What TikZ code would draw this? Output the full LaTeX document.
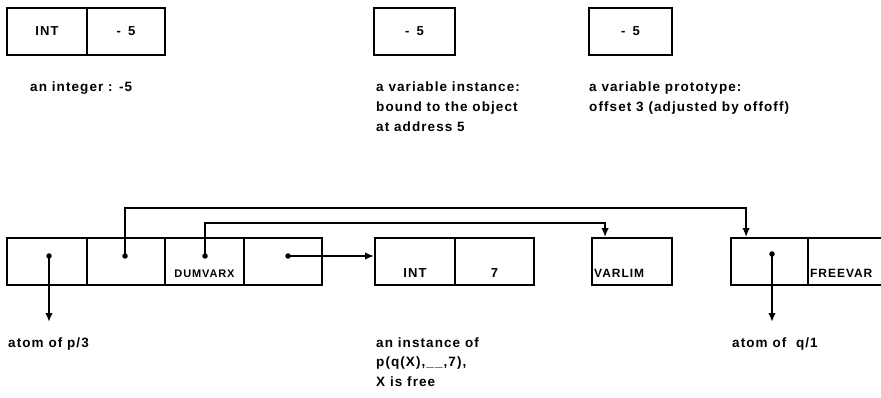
\documentclass[tikz,border=0pt]{standalone}
\usepackage{fontspec}
\setmainfont{Liberation Sans}[LetterSpace=8]
\usetikzlibrary{arrows.meta}
\begin{document}
\begin{tikzpicture}[x=1pt,y=-1pt,
  cell/.style={draw,line width=1.8pt,minimum height=47pt,inner sep=0pt,font=\bfseries\fontsize{13}{15}\selectfont},
  intext/.style={font=\bfseries\fontsize{13}{15}\selectfont,inner sep=0pt},
  lbl/.style={anchor=base west,inner sep=0pt,font=\bfseries\fontsize{13.5}{20}\selectfont},
  dot/.style={circle,fill,inner sep=0pt,minimum size=5.5pt},
  arr/.style={line width=1.8pt,-{Latex[length=9pt,width=7.5pt]}}]
\useasboundingbox (0,0) rectangle (881,398);
\clip (0,0) rectangle (881,398);
% top row
\node[cell,minimum width=80pt] (int1) at (47,31.5) {INT};
\node[cell,minimum width=78pt] (val1) at (126,31.5) {-\hspace{7pt}5};
\node[lbl] (l1) at (30,92) {an integer : -5};
\node[cell,minimum width=81pt] (var1) at (414.5,31.5) {-\hspace{7pt}5\hspace{14pt}};
\node[lbl] (l2a) at (376,92) {a variable instance:};
\node[lbl] (l2b) at (376,112) {bound to the object};
\node[lbl] (l2c) at (376,132) {at address 5};
\node[cell,minimum width=83pt] (proto) at (630.5,31.5) {-\hspace{7pt}5\hspace{20pt}};
\node[lbl] (l3a) at (589,92) {a variable prototype:};
\node[lbl] (l3b) at (589,112) {offset 3 (adjusted by offoff)};
% bottom row
\node[cell,minimum width=80pt] (c1) at (47,261.5) {};
\node[cell,minimum width=78pt] (c2) at (126,261.5) {};
\node[cell,minimum width=79pt] (c3) at (204.5,261.5) {};
\node[cell,minimum width=78pt] (c4) at (283,261.5) {};
\node[intext,font=\bfseries\fontsize{11}{13}\selectfont,anchor=base] (dv) at (c3.center |- 0,277) {DUMVARX};
\node[cell,minimum width=80pt] (i1) at (415,261.5) {};
\node[cell,minimum width=79pt] (i2) at (494.5,261.5) {};
\node[intext,anchor=base] (it) at (i1.center |- 0,277) {INT};
\node[intext,anchor=base] (i7) at (i2.center |- 0,277) {7};
\node[cell,minimum width=80pt] (vl) at (632,261.5) {};
\node[intext,font=\bfseries\fontsize{12}{14}\selectfont,anchor=base west] (vlt) at (594,277) {VARLIM};
\node[cell,minimum width=77pt] (f1) at (769.5,261.5) {};
\node[cell,minimum width=90pt] (f2) at (853,261.5) {};
\node[intext,font=\bfseries\fontsize{12}{14}\selectfont,anchor=base west] (fv) at (810,277) {FREEVAR};
% dots
\node[dot] (d1) at (49,256) {};
\node[dot] (d2) at (125,256) {};
\node[dot] (d3) at (205,256) {};
\node[dot] (d4) at (288,256) {};
\node[dot] (d5) at (772,254) {};
% free ends
\coordinate (e1) at (49,322);
\coordinate (e5) at (772,322);
% connectors
\draw[arr] (d1.center) -- (e1);
\draw[arr] (d5.center) -- (e5);
\draw[arr] (d4.center) -- (d4 -| i1.west);
\draw[arr] (d2.center) -- (125,208) -| ([xshift=16pt]f1.north west);
\draw[arr] (d3.center) -- (205,223) -| ([xshift=14pt]vl.north west);
% bottom labels
\node[lbl] (l4) at (8,347) {atom of\ p/3};
\node[lbl] (l5) at (732,347) {atom of\ \ q/1};
\node[lbl] (l6a) at (376,347) {an instance of};
\node[lbl] (l6b) at (376,366.5) {p(q(X),\_\_,7),};
\node[lbl] (l6c) at (376,386) {X is free};
\end{tikzpicture}
\end{document}
